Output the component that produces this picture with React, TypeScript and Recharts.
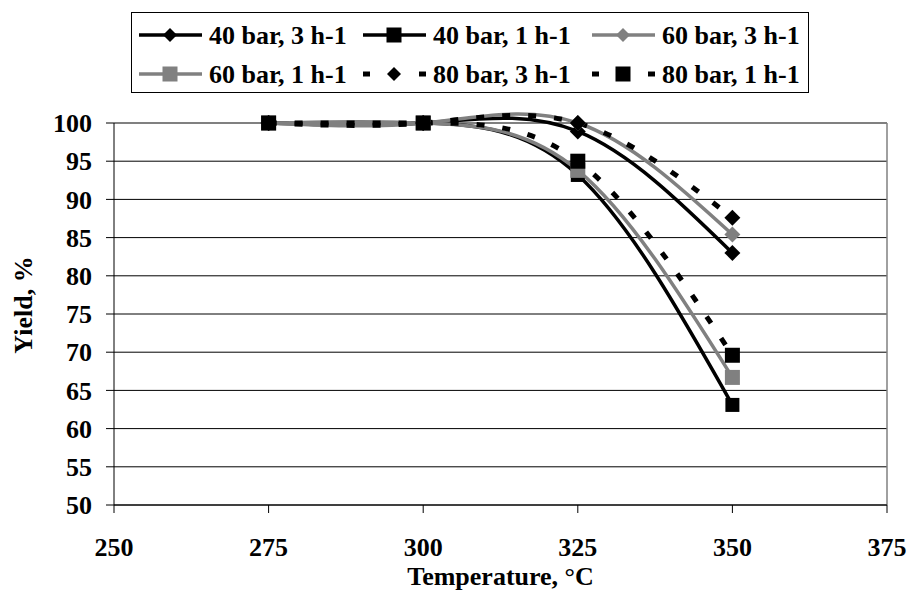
import React from 'react';
import { LineChart, Line, XAxis, YAxis, CartesianGrid, Legend, ReferenceLine } from 'recharts';

// temperatures (°C) at which yield was measured
const temperatures = [275, 300, 325, 350];

// yield (%) for each pressure / space velocity combination
const yield40bar3h = [100, 100, 98.9, 83.0];
const yield40bar1h = [100, 100, 93.2, 63.1];
const yield60bar3h = [100, 100, 100, 85.4];
const yield60bar1h = [100, 100, 93.8, 66.7];
const yield80bar3h = [100, 100, 100, 87.6];
const yield80bar1h = [100, 100, 95.0, 69.6];

const xTicks = [250, 275, 300, 325, 350, 375];
const yTicks = [50, 55, 60, 65, 70, 75, 80, 85, 90, 95, 100];

const FONT = '"Times New Roman", "Liberation Serif", "DejaVu Serif", serif';
const GRAY = '#808080';

type Marker = 'diamond' | 'square';

const series: { key: string; name: string; values: number[]; color: string; dashed: boolean; marker: Marker; size: number }[] = [
    { key: 's40_3', name: '40 bar, 3 h-1', values: yield40bar3h, color: '#000', dashed: false, marker: 'diamond', size: 16 },
    { key: 's40_1', name: '40 bar, 1 h-1', values: yield40bar1h, color: '#000', dashed: false, marker: 'square', size: 14 },
    { key: 's60_3', name: '60 bar, 3 h-1', values: yield60bar3h, color: GRAY, dashed: false, marker: 'diamond', size: 16 },
    { key: 's60_1', name: '60 bar, 1 h-1', values: yield60bar1h, color: GRAY, dashed: false, marker: 'square', size: 15 },
    { key: 's80_3', name: '80 bar, 3 h-1', values: yield80bar3h, color: '#000', dashed: true, marker: 'diamond', size: 16 },
    { key: 's80_1', name: '80 bar, 1 h-1', values: yield80bar1h, color: '#000', dashed: true, marker: 'square', size: 15 },
];

const chartData = temperatures.map((t, i) => {
    const row: Record<string, number> = { temp: t };
    series.forEach((s) => { row[s.key] = s.values[i]; });
    return row;
});

const textStyle: React.CSSProperties = { fontFamily: FONT, fontWeight: 700, fontSize: 26 };

const drawMarker = (marker: Marker, cx: number, cy: number, size: number, color: string, key?: string) => {
    const h = size / 2;
    if (marker === 'diamond') {
        return <polygon key={key} points={`${cx},${cy - h} ${cx + h},${cy} ${cx},${cy + h} ${cx - h},${cy}`} fill={color} />;
    }
    return <rect key={key} x={cx - h} y={cy - h} width={size} height={size} fill={color} />;
};

const LegendBox = () => {
    const cols = [7, 231, 460];
    const rows = [22, 61];
    return (
        <div style={{ width: 678, height: 81, border: '1.5px solid #000', boxSizing: 'border-box', background: '#fff' }}>
            <svg width={675} height={78}>
                {series.map((s, i) => {
                    const x = cols[i % 3];
                    const y = rows[Math.floor(i / 3)];
                    return (
                        <g key={s.key}>
                            {s.dashed ? (
                                <>
                                    <line x1={x} y1={y} x2={x + 7} y2={y} stroke={s.color} strokeWidth={5} />
                                    <line x1={x + 56} y1={y} x2={x + 63} y2={y} stroke={s.color} strokeWidth={5} />
                                </>
                            ) : (
                                <line x1={x} y1={y} x2={x + 63} y2={y} stroke={s.color} strokeWidth={3.5} />
                            )}
                            {drawMarker(s.marker, x + 31, y, s.marker === 'diamond' ? 14 : 15, s.color)}
                            <text x={x + 70} y={y + 9} style={textStyle} fill="#000">
                                {s.name}
                            </text>
                        </g>
                    );
                })}
            </svg>
        </div>
    );
};

const App: React.FC = () => {
    return (
        <div style={{ position: 'absolute', left: 0, top: 0, background: '#fff', fontFamily: FONT }}>
            <LineChart width={907} height={590} data={chartData} margin={{ top: 123, right: 20, bottom: 0, left: 0 }}>
                <CartesianGrid vertical={false} stroke="#000" strokeWidth={1} />
                <ReferenceLine y={100} stroke={GRAY} strokeWidth={1.5} />
                <ReferenceLine x={375} stroke={GRAY} strokeWidth={1.5} />
                <XAxis
                    dataKey="temp"
                    type="number"
                    domain={[250, 375]}
                    ticks={xTicks}
                    height={85}
                    tickSize={8}
                    tickMargin={25}
                    stroke="#000"
                    tick={{ fill: '#000', style: textStyle }}
                    label={(props: any) => {
                        const vb = props.viewBox;
                        return (
                            <text x={vb.x + vb.width / 2} y={585} textAnchor="middle" style={textStyle} fill="#000">
                                Temperature, °C
                            </text>
                        );
                    }}
                />
                <YAxis
                    type="number"
                    domain={[50, 100]}
                    ticks={yTicks}
                    width={114}
                    tickSize={8}
                    tickMargin={14}
                    stroke="#000"
                    tick={{ fill: '#000', style: textStyle }}
                    label={() => (
                        <text x={32} y={305} transform="rotate(-90, 32, 305)" textAnchor="middle" style={textStyle} fill="#000">
                            Yield, %
                        </text>
                    )}
                />
                <Legend
                    verticalAlign="middle"
                    align="center"
                    layout="horizontal"
                    wrapperStyle={{ position: 'absolute', left: 131, top: 12, width: 678, height: 81 }}
                    content={() => <LegendBox />}
                />
                {series.map((s) => (
                    <Line
                        key={s.key}
                        type="natural"
                        dataKey={s.key}
                        name={s.name}
                        stroke={s.color}
                        strokeWidth={s.dashed ? 5 : 3.5}
                        strokeDasharray={s.dashed ? '8 18' : undefined}
                        isAnimationActive={false}
                        dot={(p: any) => drawMarker(s.marker, p.cx, p.cy, s.size, s.color, `${s.key}-${p.index}`)}
                        activeDot={false}
                    />
                ))}
            </LineChart>
        </div>
    );
};

export default App;
